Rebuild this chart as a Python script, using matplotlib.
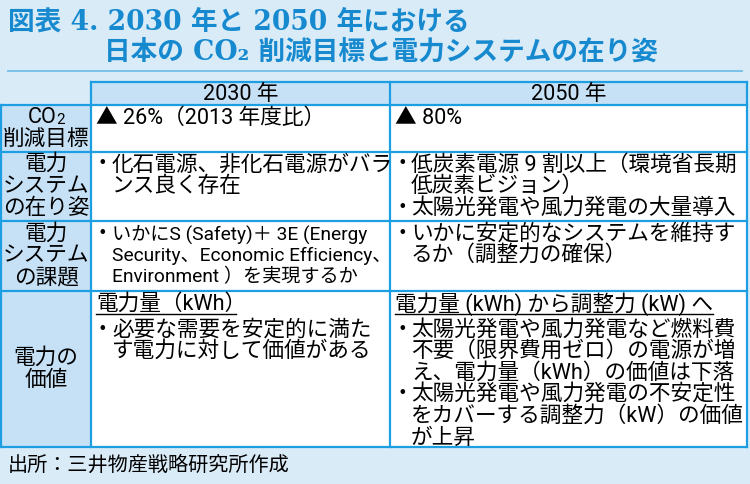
import matplotlib
matplotlib.use('Agg')
import matplotlib.pyplot as plt
from matplotlib.patches import Rectangle

BODY_FAMILY = ['Roboto', 'Noto Sans CJK JP', 'DejaVu Sans']
TITLE_FAMILY = ['DejaVu Serif', 'Noto Sans CJK JP', 'DejaVu Sans']
plt.rcParams['font.family'] = BODY_FAMILY

# ---------------- data ----------------
title_lines = ["図表 4. 2030 年と 2050 年における",
               "日本の CO₂ 削減目標と電力システムの在り姿"]
col_headers = ["2030 年", "2050 年"]
row_labels = [["CO₂", "削減目標"],
              ["電力", "システム", "の在り姿"],
              ["電力", "システム", "の課題"],
              ["電力の", "価値"]]
cells_2030 = [
    [("text", ["▲ 26%（2013 年度比）"])],
    [("bullet", ["化石電源、非化石電源がバラ", "ンス良く存在"])],
    [("bullet", ["いかにS (Safety)＋ 3E (Energy",
                 "Security、Economic Efficiency、",
                 "Environment ）を実現するか"], 13.8)],
    [("head", ["電力量（kWh）"]),
     ("bullet", ["必要な需要を安定的に満た", "す電力に対して価値がある"])],
]
cells_2050 = [
    [("text", ["▲ 80%"])],
    [("bullet", ["低炭素電源 9 割以上（環境省長期", "低炭素ビジョン）"]),
     ("bullet", ["太陽光発電や風力発電の大量導入"])],
    [("bullet", ["いかに安定的なシステムを維持す", "るか（調整力の確保）"])],
    [("head", ["電力量 (kWh) から調整力 (kW) へ"]),
     ("bullet", ["太陽光発電や風力発電など燃料費",
                 "不要（限界費用ゼロ）の電源が増",
                 "え、電力量（kWh）の価値は下落"]),
     ("bullet", ["太陽光発電や風力発電の不安定性",
                 "をカバーする調整力（kW）の価値",
                 "が上昇"])],
]
source_text = "出所：三井物産戦略研究所作成"

# ---------------- style / layout ----------------
BG = '#daebf8'
HEAD = '#c6e1f6'
BORDER = '#1e9ee2'
TITLE = '#1689cf'
W, H = 750, 484
x_cols = [1, 91, 390, 747]
y_head_top = 82
y_rows = [105, 152, 221, 291, 447]
FS = 15.6
PITCH = 21.6

fig = plt.figure(figsize=(W / 100, H / 100), dpi=100)
fig.patch.set_facecolor(BG)
ax = fig.add_axes([0, 0, 1, 1])
ax.set_xlim(0, W)
ax.set_ylim(H, 0)
ax.axis('off')
fig.canvas.draw()
renderer = fig.canvas.get_renderer()

# title
ax.text(8, 22, title_lines[0], fontsize=19.2, color=TITLE, fontweight='bold',
        family=TITLE_FAMILY, va='center', ha='left')
ax.text(104, 52, title_lines[1], fontsize=19.2, color=TITLE, fontweight='bold',
        family=TITLE_FAMILY, va='center', ha='left')
ax.plot([8, 742], [71, 71], color='#74bde8', lw=1.3)

# fills
ax.add_patch(Rectangle((x_cols[1], y_head_top), x_cols[3] - x_cols[1],
                       y_rows[0] - y_head_top, facecolor=HEAD, edgecolor='none'))
ax.add_patch(Rectangle((x_cols[0], y_rows[0]), x_cols[1] - x_cols[0],
                       y_rows[-1] - y_rows[0], facecolor=HEAD, edgecolor='none'))
ax.add_patch(Rectangle((x_cols[1], y_rows[0]), x_cols[3] - x_cols[1],
                       y_rows[-1] - y_rows[0], facecolor='white', edgecolor='none'))

# borders
lw = 1.6
ax.plot([x_cols[1], x_cols[3]], [y_head_top, y_head_top], color=BORDER, lw=lw)
for y in y_rows:
    ax.plot([x_cols[0], x_cols[3]], [y, y], color=BORDER, lw=lw)
ax.plot([x_cols[0], x_cols[0]], [y_rows[0], y_rows[-1]], color=BORDER, lw=lw)
for x in x_cols[1:]:
    ax.plot([x, x], [y_head_top, y_rows[-1]], color=BORDER, lw=lw)

# column headers
for i, h in enumerate(col_headers):
    cx = (x_cols[i + 1] + x_cols[i + 2]) / 2
    ax.text(cx, (y_head_top + y_rows[0]) / 2 + 1, h, fontsize=FS, ha='center',
            va='center', color='black')


def centered_label(cx, y, lab):
    if '₂' in lab:
        main, rest = lab.split('₂', 1)
        t = ax.text(0, y, main, fontsize=FS, ha='left', va='center')
        w_main = t.get_window_extent(renderer=renderer).width
        s = ax.text(0, y + 2, '2' + rest, fontsize=FS * 0.7, ha='left',
                    va='center')
        w_sub = s.get_window_extent(renderer=renderer).width
        x0 = cx - (w_main + w_sub) / 2
        t.set_x(x0)
        s.set_x(x0 + w_main)
    else:
        ax.text(cx, y, lab, fontsize=FS, ha='center', va='center')


# row labels
for r, labs in enumerate(row_labels):
    cy = (y_rows[r] + y_rows[r + 1]) / 2
    n = len(labs)
    for k, lab in enumerate(labs):
        y = cy + (k - (n - 1) / 2) * 22
        centered_label((x_cols[0] + x_cols[1]) / 2, y, lab)


def draw_cell(items, x0, top):
    y = top + 13
    for item in items:
        kind, lines = item[0], item[1]
        fs = item[2] if len(item) > 2 else FS
        if kind == 'head':
            t = ax.text(x0, y, lines[0], fontsize=fs, ha='left', va='center',
                        color='black')
            bb = t.get_window_extent(renderer=renderer)
            x1 = bb.x1 - (10 if lines[0].endswith('）') else 0)
            ax.plot([x0, x1], [y + 10, y + 10], color='black', lw=1.0)
            y += 26
        elif kind == 'bullet':
            ax.text(x0 - 4, y, "・", fontsize=FS, ha='left', va='center',
                    color='black')
            for ln in lines:
                ax.text(x0 + 16, y, ln, fontsize=fs, ha='left', va='center',
                        color='black')
                y += PITCH
        else:
            for ln in lines:
                ax.text(x0, y, ln, fontsize=fs, ha='left', va='center',
                        color='black')
                y += PITCH


for r in range(len(row_labels)):
    draw_cell(cells_2030[r], x_cols[1] + 5, y_rows[r])
    draw_cell(cells_2050[r], x_cols[2] + 5, y_rows[r])

ax.text(8, 465, source_text, fontsize=14.5, ha='left', va='center',
        color='black')

fig.savefig('out.png', dpi=100, facecolor=BG)
